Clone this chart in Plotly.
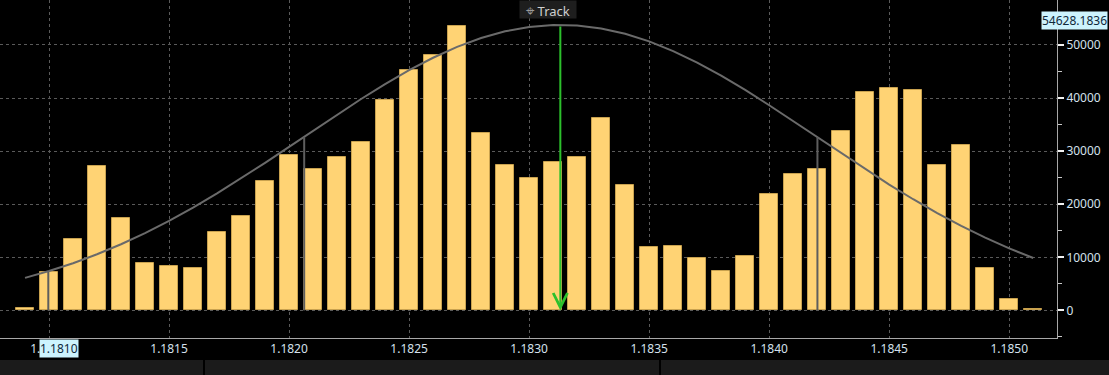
import plotly.graph_objects as go

# ---- data ----
prices = [1.1809, 1.1810, 1.1811, 1.1812, 1.1813, 1.1814, 1.1815, 1.1816, 1.1817, 1.1818,
          1.1819, 1.1820, 1.1821, 1.1822, 1.1823, 1.1824, 1.1825, 1.1826, 1.1827, 1.1828,
          1.1829, 1.1830, 1.1831, 1.1832, 1.1833, 1.1834, 1.1835, 1.1836, 1.1837, 1.1838,
          1.1839, 1.1840, 1.1841, 1.1842, 1.1843, 1.1844, 1.1845, 1.1846, 1.1847, 1.1848,
          1.1849, 1.1850, 1.1851]

volumes = [400, 7300, 13500, 27200, 17400, 8900, 8400, 8000, 14800, 17800,
           24300, 29300, 26700, 28900, 31800, 39700, 45300, 48100, 53600, 33400,
           27400, 24900, 28000, 28900, 36300, 23600, 11900, 12100, 9800, 7400,
           10300, 21900, 25600, 26600, 33800, 41200, 41900, 41600, 27400, 31100,
           8000, 2100, 200]

curve = [6130, 7420, 8890, 10570, 12460, 14560, 16860, 19360, 22030, 24850,
         27790, 30800, 33850, 36880, 39820, 42630, 45240, 47590, 49630, 51300,
         52570, 53400, 53780, 53680, 53120, 52110, 50680, 48850, 46680, 44220,
         41530, 38650, 35670, 32630, 29590, 26600, 23700, 20940, 18330, 15910,
         13700, 11690, 9880]

peak_price = 1.18313
peak_value = 53780
cursor_value_label = "54628.1836"
cursor_value = 54628.1836
cursor_price_label = "1.1810"
cursor_price = 1.18104

sigma_x = [1.180997, 1.182063, 1.184201]
sigma_top = [7280, 32630, 32630]

x_tick_vals = [1.1810, 1.1815, 1.1820, 1.1825, 1.1830, 1.1835, 1.1840, 1.1845, 1.1850]
y_tick_vals = [0, 10000, 20000, 30000, 40000, 50000]

# ---- figure ----
W, H = 1109, 375
fig = go.Figure()

fig.add_trace(go.Bar(
    x=prices, y=volumes, width=0.0000735,
    marker=dict(color="#FFD374", line=dict(color="#c9a24f", width=1)),
    hoverinfo="skip",
))

fig.add_trace(go.Scatter(
    x=prices, y=curve, mode="lines",
    line=dict(color="#6a6a6a", width=2),
    hoverinfo="skip",
))

sx, sy = [], []
for xv, tv in zip(sigma_x, sigma_top):
    sx += [xv, xv, None]
    sy += [0, tv, None]
fig.add_trace(go.Scatter(
    x=sx, y=sy, mode="lines",
    line=dict(color="#5e5e5e", width=2),
    hoverinfo="skip",
))

font_family = "Noto Sans, Open Sans, DejaVu Sans, sans-serif"
tick_color = "#d4e0ec"

fig.update_layout(
    width=W, height=H, autosize=False,
    margin=dict(l=0, r=52, t=0, b=37, pad=0),
    paper_bgcolor="#000000", plot_bgcolor="#000000",
    showlegend=False, hovermode=False, bargap=0,
    font=dict(family=font_family, size=12, color=tick_color),
    xaxis=dict(
        range=[1.1807958, 1.185199],
        tickvals=x_tick_vals, tickformat=".4f",
        showgrid=True, gridcolor="#5a5a5a", griddash="dot", gridwidth=1,
        showline=True, linecolor="#a8a8a8", linewidth=1,
        ticks="", zeroline=False,
        tickfont=dict(family=font_family, size=12, color=tick_color),
    ),
    yaxis=dict(
        side="right",
        range=[-5200, 58470],
        tickvals=y_tick_vals, tickformat="d",
        showgrid=True, gridcolor="#5a5a5a", griddash="dot", gridwidth=1,
        showline=True, linecolor="#a8a8a8", linewidth=1,
        ticks="outside", ticklen=6, tickwidth=2, tickcolor="#f0f0f0",
        minor=dict(dtick=5000, tick0=0, ticks="outside", ticklen=4, tickwidth=1,
                   tickcolor="#c8c8c8", showgrid=False),
        zeroline=False,
        tickfont=dict(family=font_family, size=12, color=tick_color),
    ),
)

# green cursor arrow from the peak down to zero
fig.add_annotation(
    x=peak_price, y=0, ax=peak_price, ay=peak_value,
    xref="x", yref="y", axref="x", ayref="y",
    showarrow=True, arrowhead=5, arrowsize=1.4, arrowwidth=2,
    arrowcolor="#2cc02c", text="",
)

# Track button
fig.add_annotation(
    x=548 / 1057, y=1, xref="paper", yref="paper",
    xanchor="center", yanchor="top",
    text="<span style='font-size:15px;color:#9a9a9a'>⌖</span> Track", showarrow=False,
    font=dict(family=font_family, size=13, color="#cfcfcf"),
    bgcolor="#1e1e1e", borderpad=0, width=56, height=17, align="center",
)

# cursor value label on the right axis
fig.add_annotation(
    x=1108 / 1057, y=cursor_value, xref="paper", yref="y",
    xanchor="right", yanchor="middle",
    text=cursor_value_label, showarrow=False,
    font=dict(family=font_family, size=12, color="#10283a"),
    bgcolor="#cdf3fd", borderpad=0,
)

# cursor price label on the x axis
fig.add_annotation(
    x=cursor_price, y=-10 / 338, xref="x", yref="paper",
    xanchor="center", yanchor="middle",
    text=cursor_price_label, showarrow=False,
    font=dict(family=font_family, size=12, color="#10283a"),
    bgcolor="#cdf3fd", borderpad=0,
)

# bottom status strip
fig.add_shape(type="rect", xref="paper", yref="paper",
              x0=-0.01, x1=1.06, y0=-(360 - 338) / 338, y1=-0.2,
              fillcolor="#1b1b1b", line=dict(width=0), layer="above")
for sep in [204, 660]:
    fig.add_shape(type="line", xref="paper", yref="paper",
                  x0=sep / 1057, x1=sep / 1057, y0=-(360 - 338) / 338, y1=-0.2,
                  line=dict(color="#000000", width=2), layer="above")

fig.write_html("out.html")
